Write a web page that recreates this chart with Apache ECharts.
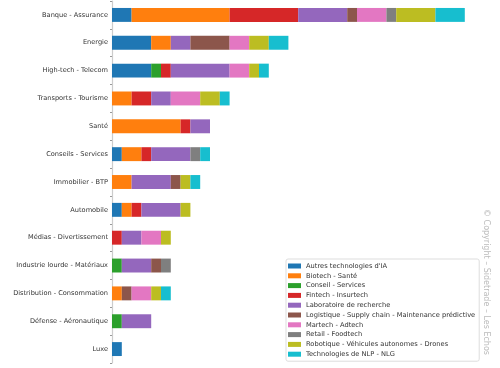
<!DOCTYPE html>
<html><head><meta charset="utf-8">
<script src="https://cdn.jsdelivr.net/npm/echarts@6/dist/echarts.min.js"></script>
<style>html,body{margin:0;padding:0;background:#fff}#c{width:500px;height:368px}</style>
</head><body><div id="c"></div>
<script>
const categories = ["Banque - Assurance","Energie","High-tech - Telecom","Transports - Tourisme","Santé","Conseils - Services","Immobilier - BTP","Automobile","Médias - Divertissement","Industrie lourde - Matériaux","Distribution - Consommation","Défense - Aéronautique","Luxe"];
const seriesNames = ["Autres technologies d'IA","Biotech - Santé","Conseil - Services","Fintech - Insurtech","Laboratoire de recherche","Logistique - Supply chain - Maintenance prédictive","Martech - Adtech","Retail - Foodtech","Robotique - Véhicules autonomes - Drones","Technologies de NLP - NLG"];
const autres      = [2,4,4,0,0,1,0,1,0,0,0,0,1];
const biotech     = [10,2,0,2,7,2,2,1,0,0,1,0,0];
const conseil     = [0,0,1,0,0,0,0,0,0,1,0,1,0];
const fintech     = [7,0,1,2,1,1,0,1,1,0,0,0,0];
const labo        = [5,2,6,2,2,4,4,4,2,3,0,3,0];
const logistique  = [1,4,0,0,0,0,1,0,0,1,1,0,0];
const martech     = [3,2,2,3,0,0,0,0,2,0,2,0,0];
const retail      = [1,0,0,0,0,1,0,0,0,1,0,0,0];
const robotique   = [4,2,1,2,0,0,1,1,1,0,1,0,0];
const nlp         = [3,2,1,1,0,1,1,0,0,0,1,0,0];
const seriesValues = [autres,biotech,conseil,fintech,labo,logistique,martech,retail,robotique,nlp];
const colors = ['#1f77b4','#ff7f0e','#2ca02c','#d62728','#9467bd','#8c564b','#e377c2','#7f7f7f','#bcbd22','#17becf'];
const font = 'DejaVu Sans';
const chart = echarts.init(document.getElementById('c'), null, {renderer:'canvas'});
chart.setOption({
  animation:false,
  color: colors,
  grid:{left:112, top:1, bottom:5, width:392*38/40},
  xAxis:{type:'value', min:0, max:38, show:false},
  yAxis:{type:'category', data:categories, inverse:true,
    axisLine:{lineStyle:{color:'#cccccc', width:1.2}},
    axisTick:{show:true, length:2, lineStyle:{color:'#999'}},
    axisLabel:{fontFamily:font, fontSize:6.6, color:'#333', margin:4}},
  legend:{orient:'vertical', left:286, top:259, data:seriesNames,
    itemWidth:13, itemHeight:5, itemGap:1.8, icon:'rect',
    borderColor:'#ddd', borderWidth:1, borderRadius:2, padding:[3,4,3,2],
    textStyle:{fontFamily:font, fontSize:6.7, color:'#333', lineHeight:8}},
  series: seriesNames.map((n,i)=>({name:n, type:'bar', stack:'t', data:seriesValues[i], barCategoryGap:'50%'})),
  graphic:[{type:'text', left:482, top:209, rotation:-Math.PI/2, originX:0, originY:0,
    style:{text:'© Copyright – Sidetrade – Les Echos', fontFamily:font, fontSize:8, fill:'#bbb'}}]
});
</script></body></html>
